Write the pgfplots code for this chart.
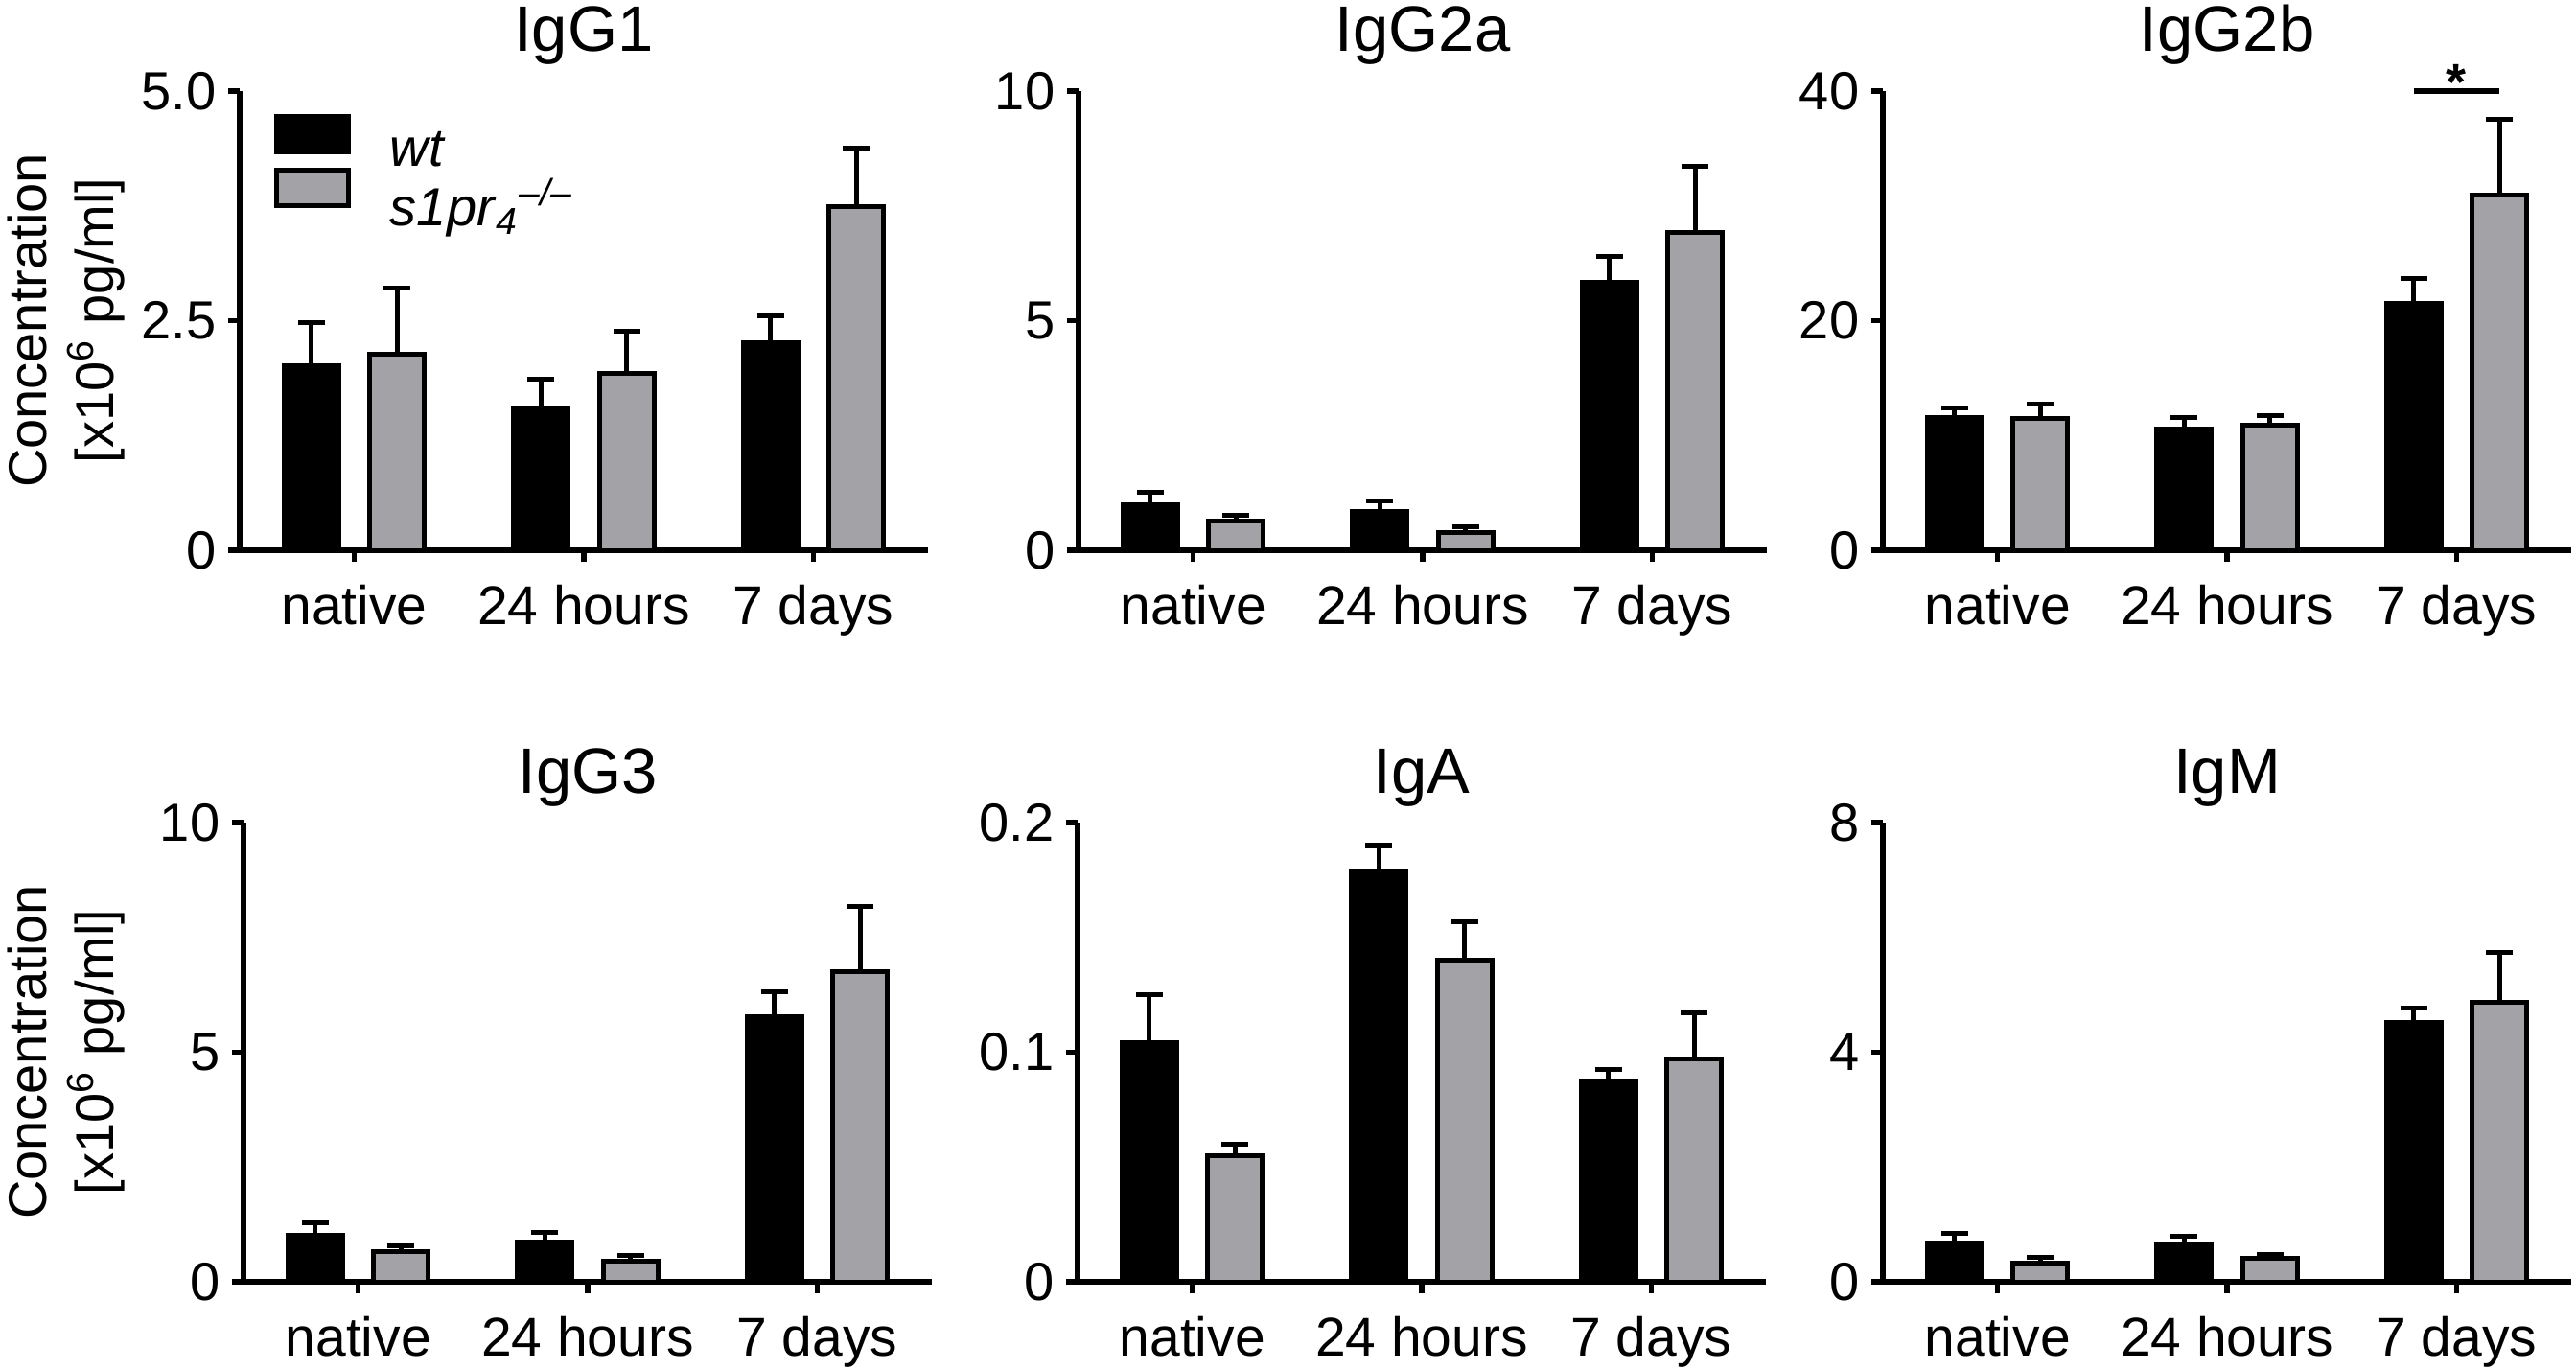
\documentclass[border=0pt]{standalone}
\usepackage{fontspec}
\setmainfont{Liberation Sans}
\usepackage{pgfplots}
\pgfplotsset{compat=1.18}
\usepackage{pgfplotstable}
\definecolor{kogray}{RGB}{163,162,167}

% columns: x, wt mean, wt SEM (up), ko mean, ko SEM (up)
\pgfplotstableread{
x wt wterr ko koerr
0 2.01 0.47 2.13 0.73
1 1.54 0.32 1.93 0.46
2 2.26 0.29 3.74 0.64
}\tIgGone
\pgfplotstableread{
x wt wterr ko koerr
0 0.99 0.27 0.64 0.13
1 0.85 0.22 0.39 0.12
2 5.83 0.57 6.93 1.44
}\tIgGtwoa
\pgfplotstableread{
x wt wterr ko koerr
0 11.6 0.8 11.5 1.2
1 10.6 0.95 10.9 0.8
2 21.5 2.15 30.9 6.6
}\tIgGtwob
\pgfplotstableread{
x wt wterr ko koerr
0 1.02 0.27 0.66 0.13
1 0.87 0.21 0.45 0.13
2 5.77 0.54 6.76 1.42
}\tIgGthree
\pgfplotstableread{
x wt wterr ko koerr
0 0.104 0.021 0.055 0.005
1 0.179 0.011 0.140 0.0166
2 0.0875 0.0048 0.097 0.020
}\tIgA
\pgfplotstableread{
x wt wterr ko koerr
0 0.68 0.16 0.33 0.10
1 0.66 0.14 0.41 0.06
2 4.52 0.25 4.87 0.87
}\tIgM

\pgfplotsset{
  panel/.style={
    width=179.5pt, height=119.75pt, scale only axis,
    anchor=south west,
    xmin=-0.5, xmax=2.5, ymin=0,
    axis lines=left,
    axis line style={-, line width=1.3pt, black},
    major tick style={line width=1.3pt, black},
    tick align=outside, major tick length=3pt,
    xtick={0,1,2}, xticklabels={native,24 hours,7 days},
    x tick label style={font=\fontsize{14.25}{16}\selectfont, yshift=-2.5pt},
    y tick label style={font=\fontsize{14}{16}\selectfont, inner xsep=3pt},
    every axis title/.style={font=\fontsize{16.75}{19}\selectfont, at={(0.5,1)}, anchor=base, yshift=10.5pt},
    clip=false,
  },
  lowrow/.style={every axis title/.append style={yshift=-2.75pt}},
  ylab/.style={
    ylabel={Concentration\\\relax[x10\textsuperscript{6} pg/ml]},
    every axis y label/.style={at={([xshift=#1]axis description cs:0,0.5)}, rotate=90, anchor=center, align=center, font=\fontsize{14}{17.5}\selectfont},
  },
  barbase/.style={ybar, bar width=14.25pt, bar shift=0pt, draw=black, line width=1.25pt,
    error bars/y dir=plus, error bars/y explicit,
    error bars/error mark=|,
    error bars/error bar style={line width=1.25pt, black},
    error bars/error mark options={line width=1.25pt, black, mark size=3.5pt}},
  wtbar/.style={barbase, fill=black},
  kobar/.style={barbase, fill=kogray},
  boxlegend/.style={/pgfplots/legend image code/.code={\draw[##1, line width=1.25pt] (0pt,-0.1pt) rectangle (18.75pt,9.15pt);}},
}

\begin{document}
\begin{tikzpicture}
\path[use as bounding box] (0,0) rectangle (671.75pt,357pt);

% ---- IgG1
\begin{axis}[panel, ylab=-45.25pt, at={(62.5pt,213.5pt)}, title={IgG1},
  ymax=5, ytick={0,2.5,5}, yticklabels={0,2.5,5.0},
  legend style={at={(axis description cs:0.049,0.952)}, anchor=north west, draw=none, fill=none,
    inner sep=0pt, nodes={inner sep=0pt}, row sep=-1pt, column sep=10.25pt,
    font=\fontsize{14}{16}\selectfont, cells={anchor=west}},
  legend cell align=left]
\addplot[wtbar, boxlegend] table[x expr=\thisrow{x}-0.187, y=wt, y error=wterr] {\tIgGone};
\addlegendentry{\textit{wt}}
\addplot[kobar, boxlegend] table[x expr=\thisrow{x}+0.187, y=ko, y error=koerr] {\tIgGone};
\addlegendentry{\textit{s1pr}\textsubscript{\textit{4}}\textsuperscript{\textit{\textendash/\textendash}}}
\end{axis}

% ---- IgG2a
\begin{axis}[panel, at={(281.25pt,213.5pt)}, title={IgG2a},
  ymax=10, ytick={0,5,10}, yticklabels={0,5,10}]
\addplot[wtbar] table[x expr=\thisrow{x}-0.187, y=wt, y error=wterr] {\tIgGtwoa};
\addplot[kobar] table[x expr=\thisrow{x}+0.187, y=ko, y error=koerr] {\tIgGtwoa};
\end{axis}

% ---- IgG2b
\begin{axis}[panel, at={(491pt,213.5pt)}, title={IgG2b},
  ymax=40, ytick={0,20,40}, yticklabels={0,20,40}]
\addplot[wtbar] table[x expr=\thisrow{x}-0.187, y=wt, y error=wterr] {\tIgGtwob};
\addplot[kobar] table[x expr=\thisrow{x}+0.187, y=ko, y error=koerr] {\tIgGtwob};
\addplot[black, line width=1.3pt, forget plot] coordinates {(1.813,40) (2.187,40)};
\node[font=\fontsize{13.5}{13.5}\selectfont\bfseries, anchor=center, yshift=2.3pt] at (axis cs:2,40) {*};
\end{axis}

% ---- IgG3
\begin{axis}[panel, lowrow, ylab=-46.25pt, at={(63.5pt,22.75pt)}, title={IgG3},
  ymax=10, ytick={0,5,10}, yticklabels={0,5,10}]
\addplot[wtbar] table[x expr=\thisrow{x}-0.187, y=wt, y error=wterr] {\tIgGthree};
\addplot[kobar] table[x expr=\thisrow{x}+0.187, y=ko, y error=koerr] {\tIgGthree};
\end{axis}

% ---- IgA
\begin{axis}[panel, lowrow, at={(281pt,22.75pt)}, title={IgA},
  ymax=0.2, ytick={0,0.1,0.2}, yticklabels={0,0.1,0.2}]
\addplot[wtbar] table[x expr=\thisrow{x}-0.187, y=wt, y error=wterr] {\tIgA};
\addplot[kobar] table[x expr=\thisrow{x}+0.187, y=ko, y error=koerr] {\tIgA};
\end{axis}

% ---- IgM
\begin{axis}[panel, lowrow, at={(491pt,22.75pt)}, title={IgM},
  ymax=8, ytick={0,4,8}, yticklabels={0,4,8}]
\addplot[wtbar] table[x expr=\thisrow{x}-0.187, y=wt, y error=wterr] {\tIgM};
\addplot[kobar] table[x expr=\thisrow{x}+0.187, y=ko, y error=koerr] {\tIgM};
\end{axis}
\end{tikzpicture}
\end{document}
